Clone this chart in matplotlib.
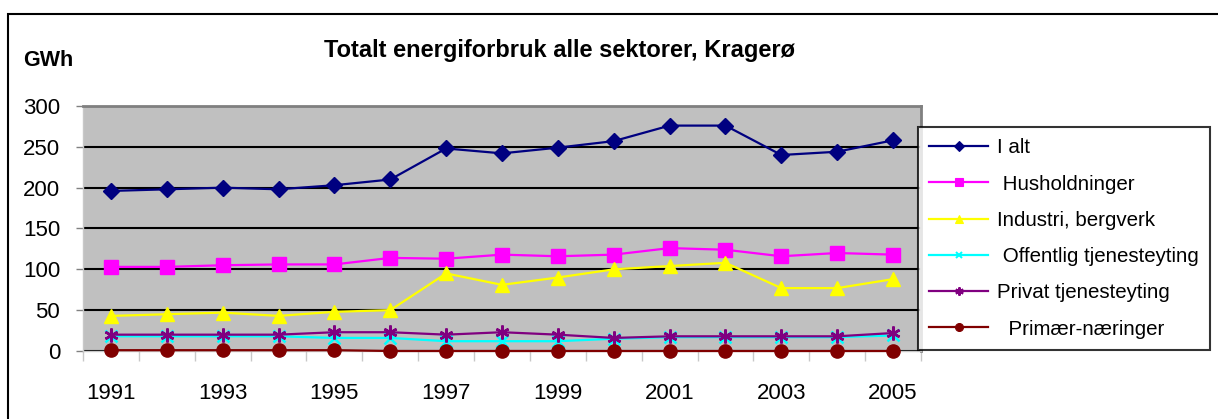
import matplotlib.pyplot as plt
import matplotlib.patches as mpatches
import numpy as np

plt.rcParams['font.family'] = ['Liberation Sans', 'DejaVu Sans']

years = list(range(1991, 2006))
i_alt = [196, 198, 200, 198, 203, 210, 248, 242, 249, 257, 276, 276, 240, 244, 258]
husholdninger = [103, 103, 105, 106, 106, 114, 113, 118, 116, 118, 126, 124, 116, 120, 118]
industri = [43, 45, 47, 43, 48, 50, 95, 81, 90, 100, 104, 108, 77, 77, 88]
offentlig = [18, 18, 18, 18, 16, 16, 12, 12, 12, 15, 17, 17, 17, 17, 19]
privat = [20, 20, 20, 20, 23, 23, 20, 23, 20, 16, 18, 18, 18, 18, 22]
primaer = [1, 1, 1, 1, 1, 0, 0, 0, 0, 0, 0, 0, 0, 0, 0]

labels = ["I alt", " Husholdninger", "Industri, bergverk", " Offentlig tjenesteyting",
          "Privat tjenesteyting", "  Primær-næringer"]

fig = plt.figure(figsize=(12.18, 4.19), dpi=100)
ax = fig.add_axes([83 / 1218, 68 / 419, 838 / 1218, 245 / 419])
ax.set_facecolor("#c0c0c0")

x = np.arange(len(years))
series = [i_alt, husholdninger, industri, offentlig, privat, primaer]
styles = [
    dict(color="#000080", marker="D", ms=8.5),
    dict(color="#ff00ff", marker="s", ms=9.5),
    dict(color="#ffff00", marker="^", ms=10),
    dict(color="#00ffff", marker="x", ms=8, mew=1.8),
    dict(color="#800080", marker=(6, 2, 0), ms=10, mew=1.8),
    dict(color="#800000", marker="o", ms=9.5),
]
handles = []
for ys, st, lab in zip(series, styles, labels):
    ax.plot(x, ys, lw=1.6, zorder=3, color=st["color"], marker=st["marker"],
            ms=st["ms"], mew=st.get("mew", 1), mec=st["color"], mfc=st["color"],
            clip_on=False)
    # smaller markers in the legend
    h, = ax.plot([], [], lw=1.6, color=st["color"], marker=st["marker"],
                 ms=st["ms"] * 0.6, mew=st.get("mew", 1) * 0.8)
    handles.append(h)

ax.set_xlim(-0.5, len(years) - 0.5)
ax.set_ylim(0, 300)
ax.set_yticks(range(0, 301, 50))
ax.yaxis.grid(True, color="black", lw=1.5)
ax.set_axisbelow(True)
ax.tick_params(axis="y", labelsize=16, length=5, width=1, color="#808080", pad=11.5)

ax.set_xticks(x[::2], [str(y) for y in years[::2]])
ax.set_xticks(np.arange(-0.5, len(years), 1), minor=True)
ax.tick_params(axis="x", which="major", length=0, labelsize=16, pad=23)
ax.tick_params(axis="x", which="minor", length=7, width=1, color="#c8c8c8")

for side in ["top", "right"]:
    ax.spines[side].set_color("#808080")
    ax.spines[side].set_linewidth(2)
ax.spines["left"].set_color("#c8c8c8")
ax.spines["bottom"].set_color("#c8c8c8")
ax.spines["left"].set_linewidth(1)
ax.spines["bottom"].set_linewidth(1)

fig.text(559 / 1218, 1 - 50 / 419, "Totalt energiforbruk alle sektorer, Kragerø",
         ha="center", va="center", fontsize=17, fontweight="bold")
fig.text(23 / 1218, 1 - 61 / 419, "GWh", ha="left", va="center",
         fontsize=15.5, fontweight="bold")

leg = fig.legend(handles, labels, loc="upper left",
                 bbox_to_anchor=(918 / 1218, 1 - 127 / 419), fontsize=14.8,
                 frameon=True, fancybox=False, edgecolor="black",
                 handlelength=2.85, labelspacing=0.84, borderpad=0.55,
                 handletextpad=0.45, borderaxespad=0)
leg.get_frame().set_linewidth(1.5)

fig.patches.append(mpatches.Rectangle((8 / 1218, -0.05), 1.2, 1 - 14 / 419 + 0.05,
                                      transform=fig.transFigure, fill=False,
                                      edgecolor="black", lw=1.5))

fig.savefig("out.png", dpi=100)
